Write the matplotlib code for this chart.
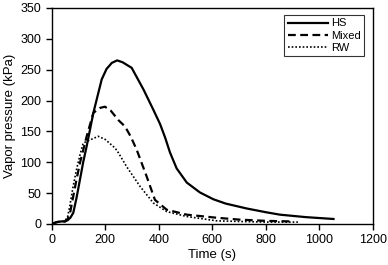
import matplotlib
matplotlib.use('Agg')
import matplotlib.pyplot as plt

plt.rcParams['font.family'] = ['Liberation Sans', 'DejaVu Sans']

# HS
t_hs = [0, 20, 35, 50, 60, 70, 81, 93, 106, 118, 131, 156, 187, 205, 225, 245, 265, 299,
        343, 380, 405, 424, 442, 467, 505, 554, 604, 650, 729, 800, 853, 950, 1053]
p_hs = [0, 3, 4, 4, 6, 10, 18, 42, 72, 100, 126, 180, 234, 251, 261, 265, 262, 253,
        218, 185, 162, 140, 116, 90, 67, 51, 40, 33, 25, 19, 15, 11, 8]

# Mixed
t_mx = [0, 20, 35, 50, 60, 70, 81, 93, 106, 131, 156, 181, 199, 220, 250, 274, 295,
        318, 355, 386, 430, 505, 617, 700, 800, 900]
p_mx = [0, 3, 4, 4, 8, 20, 45, 72, 99, 142, 180, 188, 190, 184, 168, 158, 142,
        120, 77, 39, 23, 15, 10, 7, 5, 4]

# RW
t_rw = [0, 20, 35, 50, 60, 68, 80, 93, 106, 118, 143, 174, 200, 237, 250, 280, 330,
        380, 430, 505, 617, 700, 800, 920]
p_rw = [0, 3, 4, 5, 12, 29, 60, 88, 112, 131, 136, 142, 137, 123, 115, 93, 61,
        34, 20, 12, 5, 4, 3, 3]

fig = plt.figure(figsize=(3.88, 2.65), dpi=100)
ax = fig.add_axes([0.133, 0.155, 0.828, 0.815])

ax.plot(t_hs, p_hs, color='black', linewidth=1.6, linestyle='-', label='HS')
ax.plot(t_mx, p_mx, color='black', linewidth=1.6, linestyle=(0, (3.5, 2)), label='Mixed')
ax.plot(t_rw, p_rw, color='black', linewidth=1.2, linestyle=(0, (1, 1.2)), label='RW')

ax.set_xlim(0, 1200)
ax.set_ylim(0, 350)
ax.set_xticks(range(0, 1201, 200))
ax.set_yticks(range(0, 351, 50))
ax.tick_params(direction='out', length=4, width=1, labelsize=9, top=False, right=False)
for s in ax.spines.values():
    s.set_linewidth(1)

ax.set_xlabel('Time (s)', fontsize=9.5, labelpad=2)
ax.set_ylabel('Vapor pressure (kPa)', fontsize=9.5, labelpad=3)

leg = ax.legend(loc='upper right', fontsize=8, frameon=True, fancybox=False,
                edgecolor='black', handlelength=3.6, handletextpad=0.3,
                borderpad=0.3, labelspacing=0.2, borderaxespad=0,
                bbox_to_anchor=(0.973, 0.967))
leg.get_frame().set_linewidth(0.8)

plt.savefig('out.png', dpi=100)
